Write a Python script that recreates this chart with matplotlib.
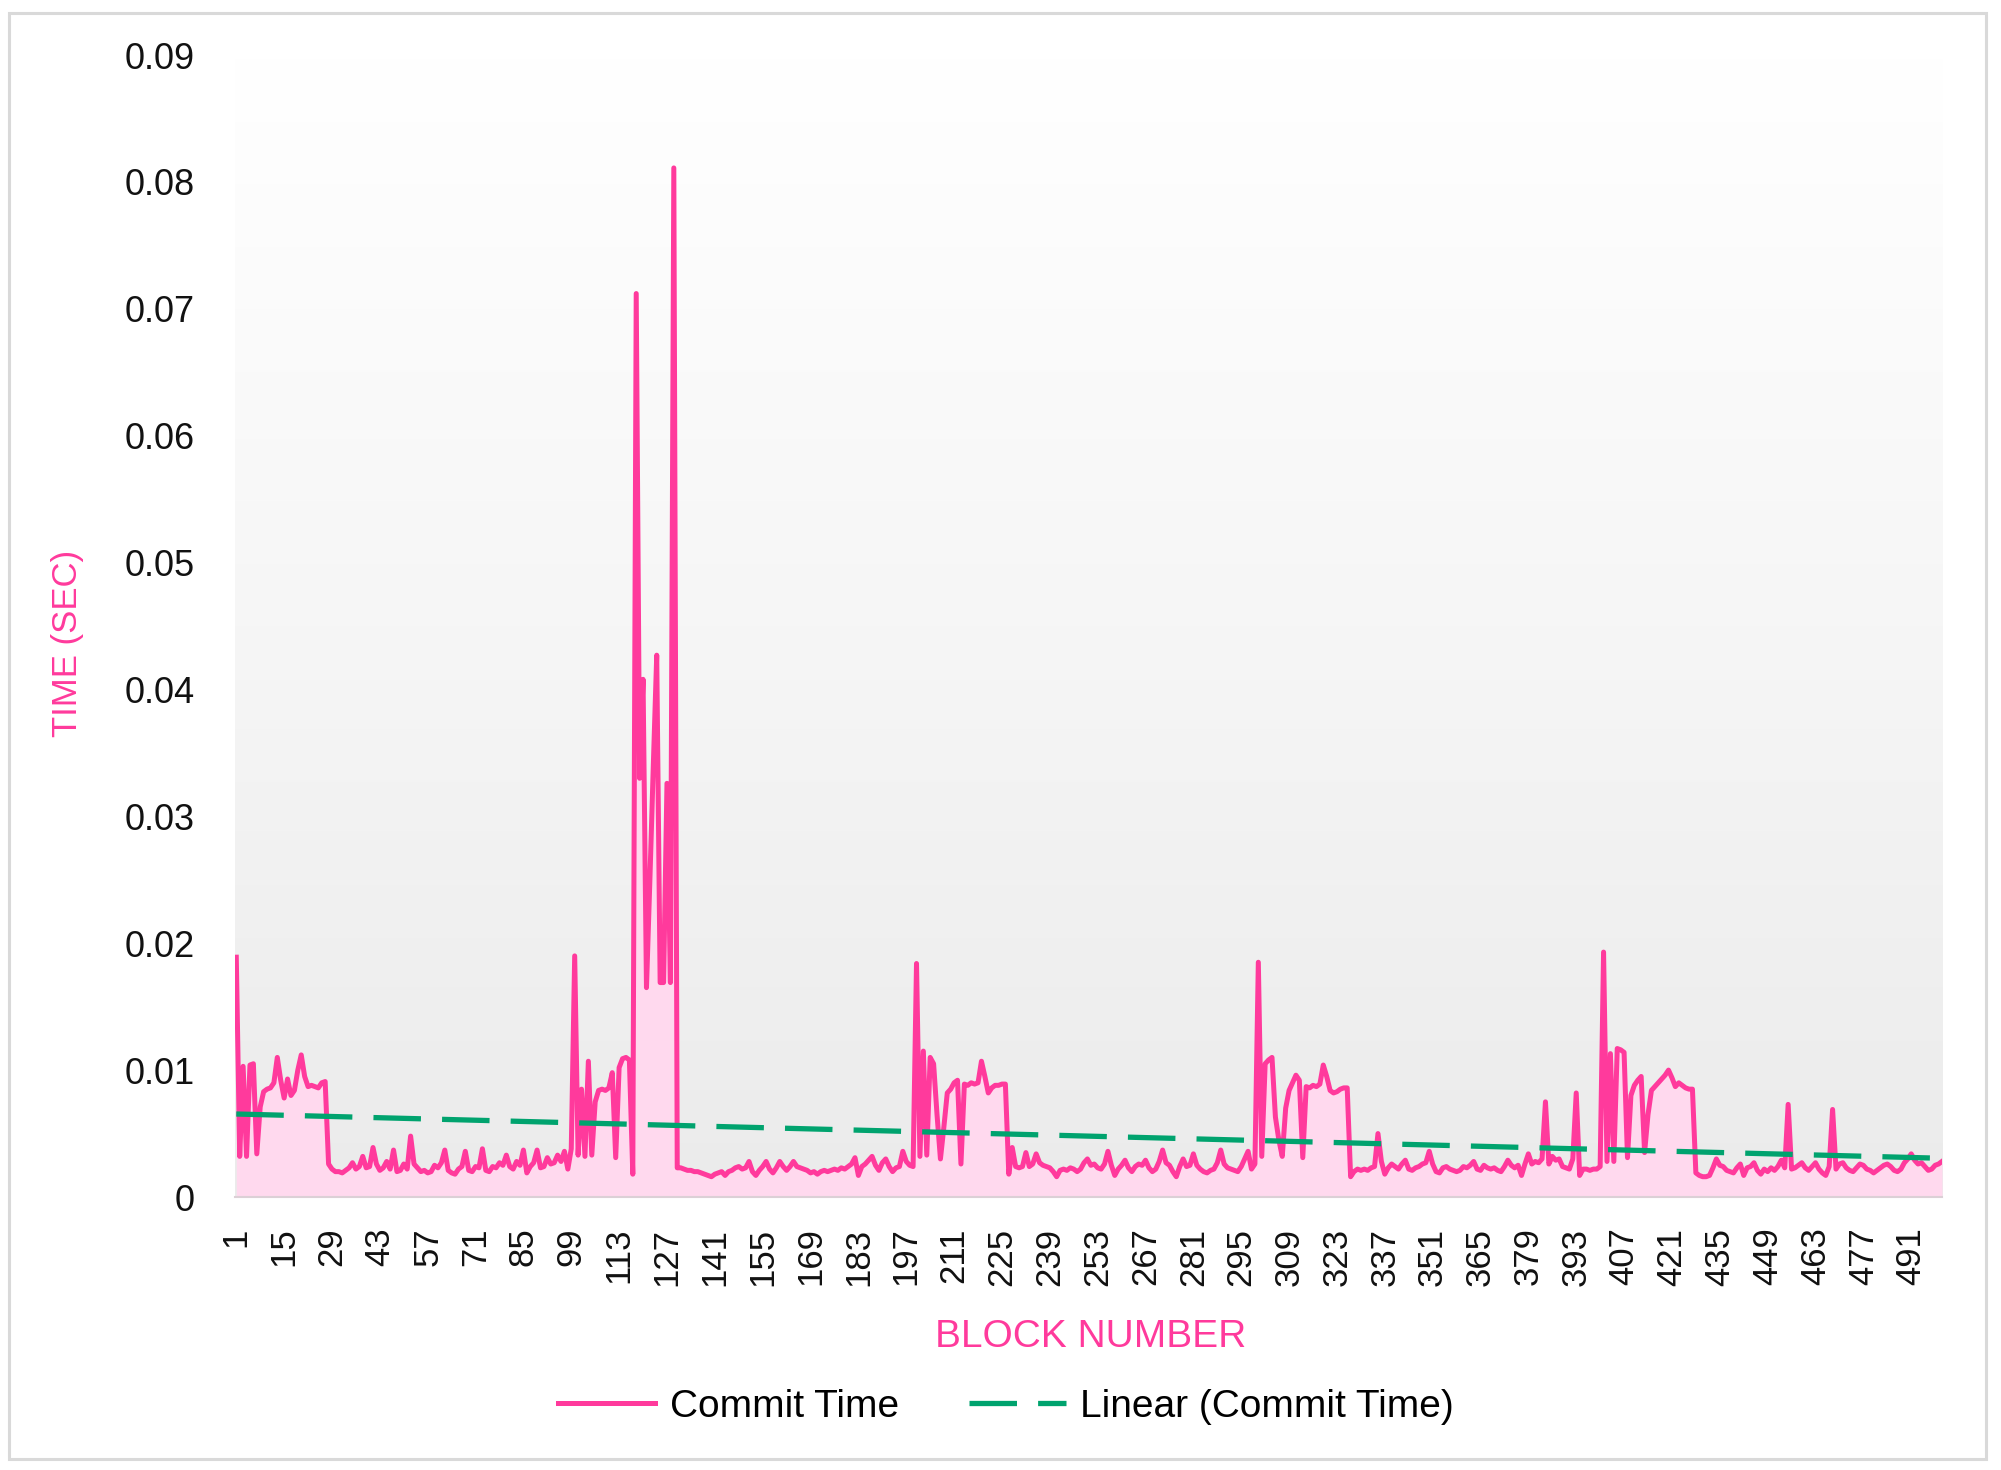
import matplotlib.pyplot as plt
import numpy as np
from matplotlib.colors import LinearSegmentedColormap
from matplotlib.patches import Rectangle

plt.rcParams['font.family'] = ['Liberation Sans', 'DejaVu Sans']

# Commit time per block, in milliseconds
commit_ms = [
    18.9, 3.2, 10.3, 3.2, 10.4, 10.5, 3.4, 7.1, 8.3, 8.5,
    8.6, 9.0, 11.0, 9.2, 7.8, 9.3, 8.0, 8.4, 10.0, 11.2,
    9.5, 8.7, 8.8, 8.7, 8.6, 9.0, 9.1, 2.6, 2.2, 2.0,
    2.0, 1.9, 2.1, 2.3, 2.7, 2.2, 2.4, 3.2, 2.3, 2.4,
    3.9, 2.6, 2.1, 2.3, 2.8, 2.2, 3.7, 2.0, 2.1, 2.6,
    2.2, 4.8, 2.6, 2.3, 2.0, 2.1, 1.9, 2.0, 2.5, 2.3,
    2.7, 3.7, 2.1, 1.9, 1.8, 2.2, 2.4, 3.6, 2.1, 2.0,
    2.4, 2.3, 3.8, 2.1, 2.0, 2.4, 2.3, 2.7, 2.5, 3.3,
    2.4, 2.2, 2.8, 2.5, 3.7, 1.9, 2.4, 2.7, 3.7, 2.3,
    2.4, 3.1, 2.6, 2.7, 3.3, 2.8, 3.6, 2.2, 3.8, 19.0,
    3.3, 8.5, 3.2, 10.7, 3.3, 7.5, 8.4, 8.5, 8.4, 8.6,
    9.8, 3.1, 10.2, 10.9, 11.0, 10.8, 1.8, 71.2, 33.0, 40.8,
    16.5, 25.0, 34.0, 42.7, 16.9, 16.9, 32.6, 16.9, 81.1, 2.3,
    2.3, 2.2, 2.1, 2.1, 2.0, 2.0, 1.9, 1.8, 1.7, 1.6,
    1.8, 1.9, 2.0, 1.7, 2.0, 2.1, 2.3, 2.4, 2.2, 2.3,
    2.8, 2.0, 1.7, 2.1, 2.4, 2.8, 2.2, 1.9, 2.3, 2.8,
    2.4, 2.1, 2.4, 2.8, 2.4, 2.3, 2.2, 2.1, 1.9, 2.0,
    1.8, 2.0, 2.1, 2.0, 2.1, 2.2, 2.1, 2.3, 2.2, 2.4,
    2.6, 3.1, 1.7, 2.4, 2.6, 2.9, 3.2, 2.5, 2.1, 2.7,
    3.0, 2.4, 2.0, 2.3, 2.4, 3.6, 2.8, 2.5, 2.4, 18.4,
    3.2, 11.5, 3.3, 11.0, 10.5, 6.5, 3.0, 5.5, 8.2, 8.5,
    9.0, 9.2, 2.6, 8.9, 8.8, 9.0, 8.9, 9.0, 10.7, 9.5,
    8.2, 8.6, 8.8, 8.8, 8.9, 8.9, 1.8, 3.9, 2.4, 2.3,
    2.4, 3.5, 2.4, 2.6, 3.4, 2.7, 2.5, 2.4, 2.3, 2.0,
    1.6, 2.1, 2.2, 2.1, 2.3, 2.2, 2.0, 2.2, 2.7, 3.0,
    2.5, 2.6, 2.3, 2.2, 2.6, 3.6, 2.5, 1.7, 2.2, 2.5,
    2.9, 2.3, 2.0, 2.4, 2.6, 2.5, 2.9, 2.3, 2.0, 2.2,
    2.8, 3.7, 2.7, 2.5, 2.0, 1.6, 2.4, 3.0, 2.4, 2.5,
    3.4, 2.5, 2.2, 2.0, 1.9, 2.1, 2.2, 2.7, 3.7, 2.6,
    2.3, 2.2, 2.1, 2.0, 2.4, 3.0, 3.6, 2.2, 2.6, 18.5,
    3.2, 10.5, 10.8, 11.0, 6.3, 4.5, 3.2, 7.0, 8.4, 9.0,
    9.6, 9.2, 3.1, 8.7, 8.6, 8.8, 8.7, 8.9, 10.4, 9.5,
    8.4, 8.2, 8.3, 8.5, 8.6, 8.6, 1.6, 2.0, 2.2, 2.1,
    2.2, 2.1, 2.3, 2.4, 5.0, 2.8, 1.8, 2.3, 2.6, 2.4,
    2.2, 2.6, 2.9, 2.2, 2.1, 2.3, 2.4, 2.6, 2.7, 3.6,
    2.6, 2.0, 1.9, 2.3, 2.4, 2.2, 2.1, 2.0, 2.1, 2.4,
    2.3, 2.5, 2.8, 2.2, 2.1, 2.5, 2.3, 2.2, 2.3, 2.1,
    2.0, 2.4, 2.9, 2.5, 2.3, 2.5, 1.7, 2.6, 3.4, 2.6,
    2.8, 2.7, 3.0, 7.5, 2.6, 3.2, 2.9, 3.0, 2.4, 2.3,
    2.2, 3.0, 8.2, 1.7, 2.2, 2.2, 2.1, 2.2, 2.2, 2.4,
    19.3, 2.8, 11.3, 2.8, 11.7, 11.6, 11.4, 3.1, 8.0, 8.8,
    9.2, 9.5, 3.5, 6.5, 8.4, 8.7, 9.0, 9.3, 9.6, 10.0,
    9.4, 8.7, 9.0, 8.8, 8.6, 8.5, 8.5, 1.9, 1.7, 1.6,
    1.6, 1.7, 2.3, 3.0, 2.5, 2.4, 2.1, 2.0, 1.9, 2.3,
    2.6, 1.7, 2.3, 2.4, 2.7, 2.1, 1.8, 2.2, 2.0, 2.3,
    2.1, 2.4, 2.9, 2.3, 7.3, 2.2, 2.3, 2.5, 2.7, 2.3,
    2.1, 2.4, 2.7, 2.2, 1.9, 1.7, 2.4, 6.9, 2.2, 2.6,
    2.7, 2.3, 2.1, 2.0, 2.3, 2.6, 2.5, 2.2, 2.1, 1.9,
    2.1, 2.3, 2.5, 2.6, 2.4, 2.1, 2.0, 2.2, 2.7, 3.0,
    3.4, 2.9, 2.6, 2.7, 2.4, 2.1, 2.2, 2.5, 2.6, 2.8,
]
tick_blocks = list(range(1, 501, 14))
y_ticks = [0, 0.01, 0.02, 0.03, 0.04, 0.05, 0.06, 0.07, 0.08, 0.09]
y_tick_labels = ['0', '0.01', '0.02', '0.03', '0.04', '0.05', '0.06', '0.07', '0.08', '0.09']

pink = '#ff3a9c'
pink_fill = '#ffd9ee'
green = '#00a36e'

blocks = np.arange(1, len(commit_ms) + 1)
commit_time = np.array(commit_ms) / 1000.0

# Excel-style linear trendline of the series
slope, intercept = np.polyfit(blocks, commit_time, 1)
trend = slope * blocks + intercept

fig = plt.figure(figsize=(20.01, 14.70), dpi=100)
ax = fig.add_axes([0.1174, 0.18571, 0.8531, 0.77687])

x0, x1 = 0.6, 500
ax.set_xlim(x0, x1)
ax.set_ylim(0, 0.09)

# plot area gradient, white at top to light grey at bottom
grad_cmap = LinearSegmentedColormap.from_list('bg', ['#ffffff', '#f6f6f6', '#ebebeb'])
ax.imshow(np.linspace(0, 1, 256).reshape(-1, 1), cmap=grad_cmap, aspect='auto',
          extent=[x0, x1, 0, 0.09], zorder=0)

ax.fill_between(blocks, 0, commit_time, color=pink_fill, lw=0, zorder=1)
ax.plot(blocks, commit_time, color=pink, lw=3.6, zorder=3, label='Commit Time')
ax.plot(blocks, trend, color=green, lw=3.8, dashes=(9, 4), zorder=4,
        label='Linear (Commit Time)')

for s in ['top', 'right', 'left']:
    ax.spines[s].set_visible(False)
ax.spines['bottom'].set_color('#dcd0d6')
ax.spines['bottom'].set_linewidth(1.5)

ax.set_yticks(y_ticks)
ax.set_yticklabels(y_tick_labels)
ax.set_xticks(tick_blocks)
ax.set_xticklabels([str(b) for b in tick_blocks], rotation=90, va='top', ha='center')
ax.tick_params(axis='y', length=0, pad=29, labelsize=26, labelcolor='#111111')
ax.tick_params(axis='x', length=0, pad=22, labelsize=25, labelcolor='#111111')

fig.text(1091 / 2001, 1 - 1337 / 1470, 'BLOCK NUMBER', color=pink, fontsize=28,
         ha='center', va='center')
fig.text(68 / 2001, 1 - 643 / 1470, 'TIME (SEC)', color=pink, fontsize=25,
         rotation=90, ha='center', va='center')

fig.legend(loc='center', bbox_to_anchor=(1006 / 2001, 1 - 1407 / 1470), ncol=2,
           frameon=False, fontsize=28, handlelength=2.5, handletextpad=0.37,
           columnspacing=1.8)

# outer chart border
fig.patches.append(Rectangle((9 / 2001, 1 - 1459 / 1470), (1986 - 9) / 2001,
                             (1459 - 13) / 1470, transform=fig.transFigure,
                             fill=False, edgecolor='#d9d9d9', lw=2.2))

fig.savefig('out.png', dpi=100, facecolor='white')
